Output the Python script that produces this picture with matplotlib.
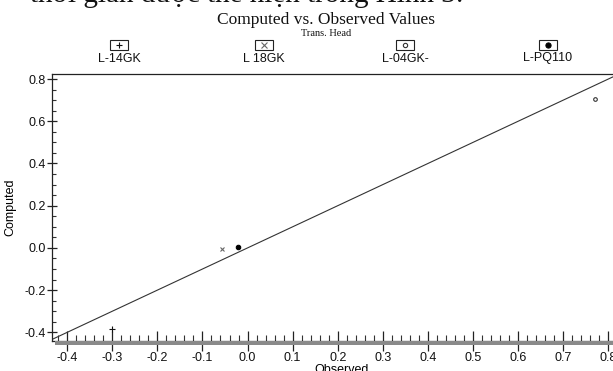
import matplotlib
matplotlib.use("Agg")
import matplotlib.pyplot as plt
from matplotlib.patches import Rectangle
from matplotlib.ticker import MultipleLocator

# ---- data ----
series_names = ["L-14GK", "L 18GK", "L-04GK-", "L-PQ110"]
observed = [-0.30, -0.057, 0.770, -0.021]
computed = [-0.382, -0.005, 0.705, 0.004]
markers = ["+", "x", "o", "o"]
marker_colors = ["#111111", "#666666", "#333333", "#000000"]
marker_faces = ["none", "none", "none", "#000000"]
marker_sizes = [4.5, 3.5, 2.6, 3.2]
x_ticks = [-0.4, -0.3, -0.2, -0.1, 0.0, 0.1, 0.2, 0.3, 0.4, 0.5, 0.6, 0.7, 0.8]
y_ticks = [-0.4, -0.2, 0.0, 0.2, 0.4, 0.6, 0.8]
title = "Computed vs. Observed Values"
subtitle = "Trans. Head"
top_text = "thời gian được thể hiện trong Hình 3:"

W, H = 613, 371
fig = plt.figure(figsize=(W / 100, H / 100), dpi=100)
fig.patch.set_facecolor("white")

# main axes in pixel geometry
x0, x1 = -0.433, 0.85
y0, y1 = -0.441, 0.824
left_px, bottom_px_from_top, top_px = 52.3, 341.0, 74.0
right_px = 248.3 + x1 * 450.0
ax = fig.add_axes([left_px / W, (H - bottom_px_from_top) / H,
                   (right_px - left_px) / W, (bottom_px_from_top - top_px) / H])
ax.set_xlim(x0, x1)
ax.set_ylim(y0, y1)
ax.spines["right"].set_visible(False)
for s in ["left", "top", "bottom"]:
    ax.spines[s].set_color("#222222")
    ax.spines[s].set_linewidth(0.9)

# 1:1 line
ax.plot([x0, x1], [x0, x1], color="#333333", lw=0.8, zorder=2)

for i, name in enumerate(series_names):
    ax.plot([observed[i]], [computed[i]], linestyle="none", marker=markers[i],
            markersize=marker_sizes[i], markeredgecolor=marker_colors[i],
            markerfacecolor=marker_faces[i], markeredgewidth=0.8, zorder=3)

ax.set_xticks(x_ticks)
ax.set_yticks(y_ticks)
ax.set_xticklabels([f"{v:.1f}" for v in x_ticks])
ax.set_yticklabels([f"{v:.1f}" for v in y_ticks])
ax.xaxis.set_minor_locator(MultipleLocator(0.02))
ax.yaxis.set_minor_locator(MultipleLocator(0.05))
ax.tick_params(axis="x", which="major", direction="inout", length=14, width=0.9,
               color="#222222", labelsize=9, labelcolor="#111111", pad=1)
ax.tick_params(axis="x", which="minor", direction="in", length=4.5, width=0.8,
               color="#333333")
ax.tick_params(axis="y", which="major", direction="inout", length=7, width=0.9,
               color="#222222", labelsize=9, labelcolor="#111111", pad=1)
ax.tick_params(axis="y", which="minor", direction="in", length=3, width=0.8,
               color="#333333")
for lab in ax.get_xticklabels() + ax.get_yticklabels():
    lab.set_family("Liberation Sans")

ax.set_xlabel("Observed", fontsize=9, family="Liberation Sans", labelpad=0)
ax.set_ylabel("Computed", fontsize=9, family="Liberation Sans", labelpad=6)

# overlay in pixel coordinates for header / legend / decorations
ov = fig.add_axes([0, 0, 1, 1], zorder=5)
ov.set_xlim(0, W)
ov.set_ylim(H, 0)
ov.axis("off")
ov.patch.set_visible(False)

# gray band under x axis
ov.add_patch(Rectangle((55, 341.3), W - 55, 3.3, facecolor="#8a8a8a",
                       edgecolor="none", zorder=1))

ov.text(30, 2.5, top_text, fontsize=21, family="Liberation Serif",
        ha="left", va="baseline", color="#111111")
ov.text(326, 20, title, fontsize=12.5, family="Liberation Serif",
        ha="center", va="center", color="#111111")
ov.text(326, 33, subtitle, fontsize=7.5, family="Liberation Serif",
        ha="center", va="center", color="#111111")

legend_x = [119, 264, 405, 548]
for i, name in enumerate(series_names):
    cx = legend_x[i]
    ov.add_patch(Rectangle((cx - 9, 40), 18, 10, facecolor="white",
                           edgecolor="#222222", lw=0.8))
    ov.plot([cx], [45], linestyle="none", marker=markers[i],
            markersize=marker_sizes[i] + 0.5, markeredgecolor=marker_colors[i],
            markerfacecolor=marker_faces[i], markeredgewidth=0.8)
    ov.text(cx, 58.5, name, fontsize=9, family="Liberation Sans",
            ha="center", va="center", color="#111111")

fig.savefig("out.png", dpi=100)
